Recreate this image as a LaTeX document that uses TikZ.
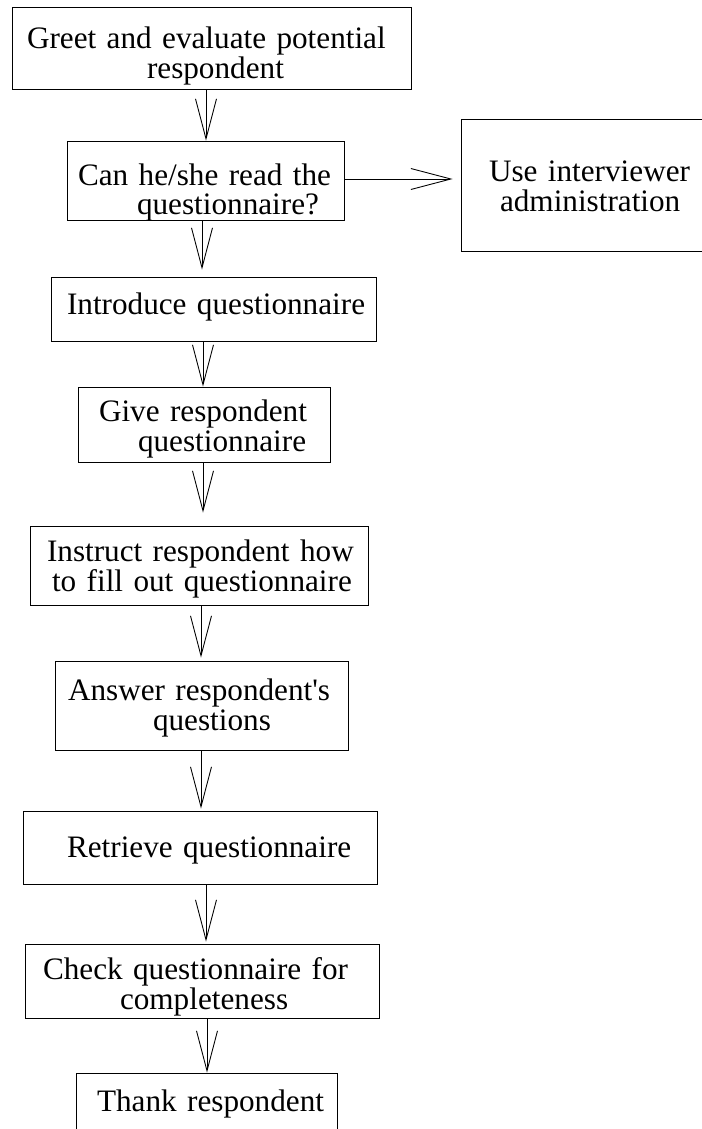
\documentclass[tikz,border=0pt]{standalone}
\usepackage{fontspec}
\setmainfont{Liberation Serif}[Ligatures=TeXOff]
\usetikzlibrary{arrows.meta}

\begin{document}
\begin{tikzpicture}[x=0.02cm, y=-0.02cm,
  every node/.style={rectangle, draw, line width=0.5pt, inner xsep=0pt, inner ysep=0pt, align=left,
    font=\fontsize{17.76pt}{17.07pt}\selectfont},
  flow/.style={-{Straight Barb[length=0.8cm, width=0.42cm]}, line width=0.5pt}]
  \useasboundingbox (0,0) rectangle (701,1129);

  \node[minimum width=7.98cm, minimum height=1.64cm, text width=7.98cm, text height=0.74cm] (greet) at (211.5,48)
    {\hspace*{0.30cm}Greet and evaluate potential\\\hspace*{2.70cm}respondent};
  \node[minimum width=5.54cm, minimum height=1.58cm, text width=5.54cm, text height=0.84cm, text depth=0.66cm] (read) at (205.5,180.5)
    {\hspace*{0.22cm}Can he/she read the\\\hspace*{1.40cm}questionnaire?};
  \node[minimum width=4.84cm, minimum height=2.64cm, text width=4.84cm, text height=0.47cm] (use) at (582,185)
    {\hspace*{0.56cm}Use interviewer\\\hspace*{0.78cm}administration};
  \node[minimum width=6.50cm, minimum height=1.28cm, text width=6.50cm, text height=0.34cm] (intro) at (213.5,309)
    {\hspace*{0.32cm}Introduce questionnaire};
  \node[minimum width=5.04cm, minimum height=1.50cm, text width=5.04cm, text height=0.60cm] (give) at (204,424.5)
    {\hspace*{0.42cm}Give respondent\\\hspace*{1.20cm}questionnaire};
  \node[minimum width=6.76cm, minimum height=1.58cm, text width=6.76cm, text height=0.56cm] (instr) at (199,565.5)
    {\hspace*{0.34cm}Instruct respondent how\\\hspace*{0.44cm}to fill out questionnaire};
  \node[minimum width=5.86cm, minimum height=1.78cm, text width=5.86cm, text height=0.52cm] (answer) at (201.5,705.5)
    {\hspace*{0.26cm}Answer respondent's\\\hspace*{1.96cm}questions};
  \node[minimum width=7.08cm, minimum height=1.46cm, text width=7.08cm, text height=0.52cm] (retr) at (200,847.5)
    {\hspace*{0.88cm}Retrieve questionnaire};
  \node[minimum width=7.08cm, minimum height=1.48cm, text width=7.08cm, text height=0.66cm] (check) at (202,981)
    {\hspace*{0.36cm}Check questionnaire for\\\hspace*{1.90cm}completeness};
  \node[minimum width=5.22cm, minimum height=1.24cm, text width=5.22cm, text height=0.42cm] (thank) at (206.5,1104)
    {\hspace*{0.42cm}Thank respondent};

  \draw[flow] (greet.south -| 206,0) -- (read.north -| 206,0);
  \draw[flow] (read.east |- 0,179) -- (use.west |- 0,179) [shorten >=0.16cm];
  \draw[flow] (read.south -| 202,0) -- (intro.north -| 202,0) [shorten >=0.14cm];
  \draw[flow] (intro.south -| 203,0) -- (give.north -| 203,0);
  \draw[flow] (give.south -| 203,0) -- (instr.north -| 203,0) [shorten >=0.26cm];
  \draw[flow] (instr.south -| 201,0) -- (answer.north -| 201,0) [shorten >=0.06cm];
  \draw[flow] (answer.south -| 201,0) -- (retr.north -| 201,0) [shorten >=0.04cm];
  \draw[flow] (retr.south -| 206,0) -- (check.north -| 206,0) [shorten >=0.04cm];
  \draw[flow] (check.south -| 207,0) -- (thank.north -| 207,0);
\end{tikzpicture}
\end{document}
